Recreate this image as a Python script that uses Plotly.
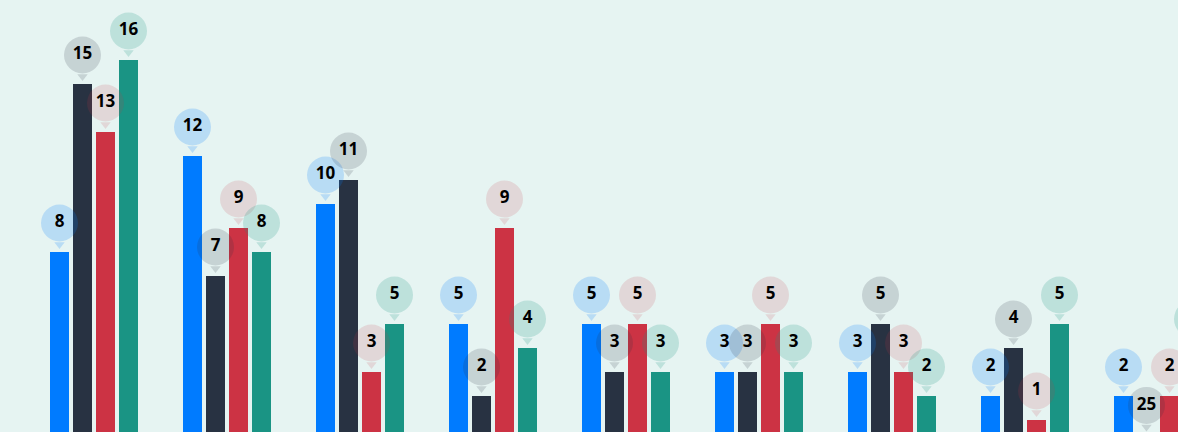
import plotly.graph_objects as go

categories = ["G1", "G2", "G3", "G4", "G5", "G6", "G7", "G8", "G9"]
series_names = ["Series A", "Series B", "Series C", "Series D"]
series_a = [8, 12, 10, 5, 5, 3, 3, 2, 2]
series_b = [15, 7, 11, 2, 3, 3, 5, 4, 0.4]
series_c = [13, 9, 3, 9, 5, 5, 3, 1, 2]
series_d = [16, 8, 5, 4, 3, 3, 2, 5, 4]
labels_b = ["15", "7", "11", "2", "3", "3", "5", "4", "25"]

colors = ["#007bff", "#283242", "#cc3344", "#1a9484"]
pin_colors = ["rgba(0,123,255,0.2)", "rgba(40,50,66,0.17)",
              "rgba(204,51,68,0.15)", "rgba(26,148,132,0.2)"]

all_values = [series_a, series_b, series_c, series_d]
all_labels = [[str(v) for v in series_a], labels_b,
              [str(v) for v in series_c], [str(v) for v in series_d]]

PX_PER_UNIT = 24.0
GROUP_PX = 133.0
SLOT_PX = 23.0
BAR_PX = 19.0

fig = go.Figure()
idx = list(range(len(categories)))

for k, vals in enumerate(all_values):
    off = (k - 1.5) * SLOT_PX / GROUP_PX
    xs = [i + off for i in idx]
    fig.add_trace(go.Bar(x=xs, y=vals, width=BAR_PX / GROUP_PX,
                         marker=dict(color=colors[k], line=dict(width=0)),
                         name=series_names[k], showlegend=False))

for k, vals in enumerate(all_values):
    off = (k - 1.5) * SLOT_PX / GROUP_PX
    xs = [i + off for i in idx]
    fig.add_trace(go.Scatter(x=xs, y=[v + 7.5 / PX_PER_UNIT for v in vals],
                             mode="markers",
                             marker=dict(symbol="triangle-down", size=9,
                                         color=pin_colors[k], line=dict(width=0)),
                             showlegend=False, hoverinfo="skip"))
    fig.add_trace(go.Scatter(x=xs, y=[v + 29 / PX_PER_UNIT for v in vals],
                             mode="markers",
                             marker=dict(symbol="circle", size=37,
                                         color=pin_colors[k], line=dict(width=0)),
                             showlegend=False, hoverinfo="skip"))

for k, vals in enumerate(all_values):
    off = (k - 1.5) * SLOT_PX / GROUP_PX
    xs = [i + off for i in idx]
    fig.add_trace(go.Scatter(x=xs, y=[v + 29 / PX_PER_UNIT for v in vals],
                             mode="text", text=all_labels[k],
                             textposition="middle center",
                             textfont=dict(family="Noto Sans", size=17,
                                           color="#000000", weight="bold"),
                             showlegend=False, hoverinfo="skip"))

fig.update_layout(
    width=1178, height=432,
    margin=dict(l=0, r=0, t=0, b=0),
    paper_bgcolor="rgb(230,244,242)",
    plot_bgcolor="rgb(230,244,242)",
    barmode="overlay",
    hovermode=False,
    xaxis=dict(range=[-94 / GROUP_PX, (1178 - 94) / GROUP_PX], visible=False,
               fixedrange=True),
    yaxis=dict(range=[(444 - 432) / PX_PER_UNIT, 444 / PX_PER_UNIT], visible=False,
               fixedrange=True),
)

fig.write_html("out.html",
               config={"displayModeBar": False, "staticPlot": True},
               post_script="document.body.style.margin='0';"
                           "document.body.style.overflow='hidden';"
                           "document.body.style.background='rgb(230,244,242)';")
